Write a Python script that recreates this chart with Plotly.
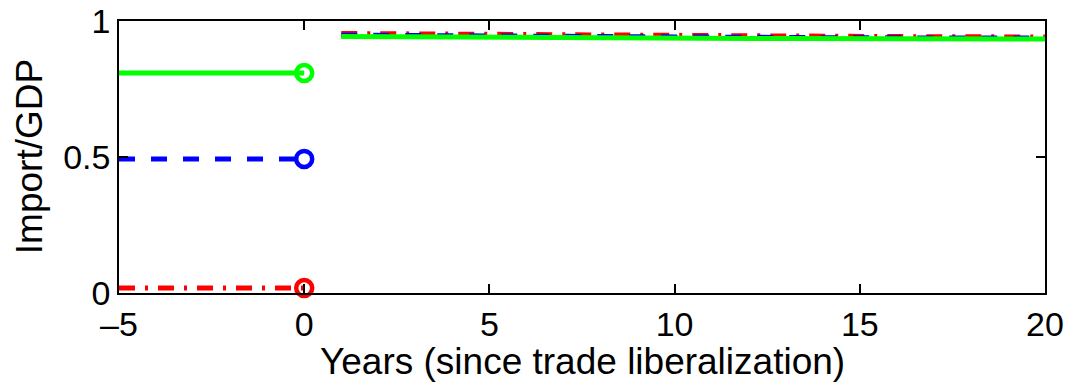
import plotly.graph_objects as go

# Import/GDP before and after trade liberalization (three model variants)
pre_years = [-5, 0]
post_years = list(range(1, 21))

pre_low = [0.018, 0.018]
pre_mid = [0.493, 0.493]
pre_high = [0.809, 0.809]

post_low = [0.954, 0.953, 0.952, 0.951, 0.950, 0.949, 0.948, 0.947, 0.947, 0.946,
            0.945, 0.945, 0.944, 0.944, 0.943, 0.943, 0.942, 0.942, 0.941, 0.941]
post_mid = [0.948, 0.947, 0.946, 0.945, 0.944, 0.943, 0.943, 0.942, 0.941, 0.941,
            0.940, 0.940, 0.939, 0.939, 0.938, 0.938, 0.938, 0.937, 0.937, 0.937]
post_high = [0.943, 0.942, 0.941, 0.940, 0.940, 0.939, 0.938, 0.938, 0.937, 0.937,
             0.936, 0.936, 0.936, 0.935, 0.935, 0.935, 0.935, 0.934, 0.934, 0.934]

x_ticks = [-5, 0, 5, 10, 15, 20]
x_tick_text = ["\u20135", "0", "5", "10", "15", "20"]
y_ticks = [0, 0.5, 1]
y_tick_text = ["0", "0.5", "1"]

series = [
    (pre_low, post_low, "#ff0000", "16px,10px,3px,10px"),
    (pre_mid, post_mid, "#0000ff", "16px,16px"),
    (pre_high, post_high, "#00ff00", "solid"),
]

fig = go.Figure()
for pre, post, color, dash in series:
    fig.add_trace(go.Scatter(
        x=pre_years, y=pre, mode="lines",
        line=dict(color=color, width=5, dash=dash), showlegend=False,
    ))
    fig.add_trace(go.Scatter(
        x=[pre_years[-1]], y=[pre[-1]], mode="markers",
        marker=dict(symbol="circle-open", size=16, color=color, line=dict(width=4.5, color=color)),
        showlegend=False, cliponaxis=False,
    ))
    fig.add_trace(go.Scatter(
        x=post_years, y=post, mode="lines",
        line=dict(color=color, width=5, dash=dash), showlegend=False,
    ))

tick_font = dict(family="Liberation Sans, Arial, sans-serif", size=34, color="black")
title_font = dict(family="Liberation Sans, Arial, sans-serif", size=37, color="black")

fig.update_layout(
    width=1068, height=382,
    margin=dict(l=119, r=23, t=21, b=89, autoexpand=False),
    paper_bgcolor="white", plot_bgcolor="white",
    xaxis=dict(
        range=[-5, 20], tickvals=x_ticks, ticktext=x_tick_text,
        ticks="inside", ticklen=9, tickwidth=1.5, tickcolor="black",
        showline=True, linecolor="black", linewidth=1.5, mirror="ticks",
        showgrid=False, zeroline=False, tickfont=tick_font, automargin=False,
    ),
    yaxis=dict(
        range=[0, 1], tickvals=y_ticks, ticktext=y_tick_text,
        ticks="inside", ticklen=9, tickwidth=1.5, tickcolor="black",
        showline=True, linecolor="black", linewidth=1.5, mirror="ticks",
        showgrid=False, zeroline=False, tickfont=tick_font, automargin=False,
    ),
    annotations=[
        dict(text="Years (since trade liberalization)", xref="paper", yref="paper",
             x=0.5, y=-0.25, xanchor="center", yanchor="middle",
             showarrow=False, font=title_font),
        dict(text="Import/GDP", xref="paper", yref="paper",
             x=-0.097, y=0.5, xanchor="center", yanchor="middle", textangle=-90,
             showarrow=False, font=title_font),
    ],
)

fig.write_html("out.html")
